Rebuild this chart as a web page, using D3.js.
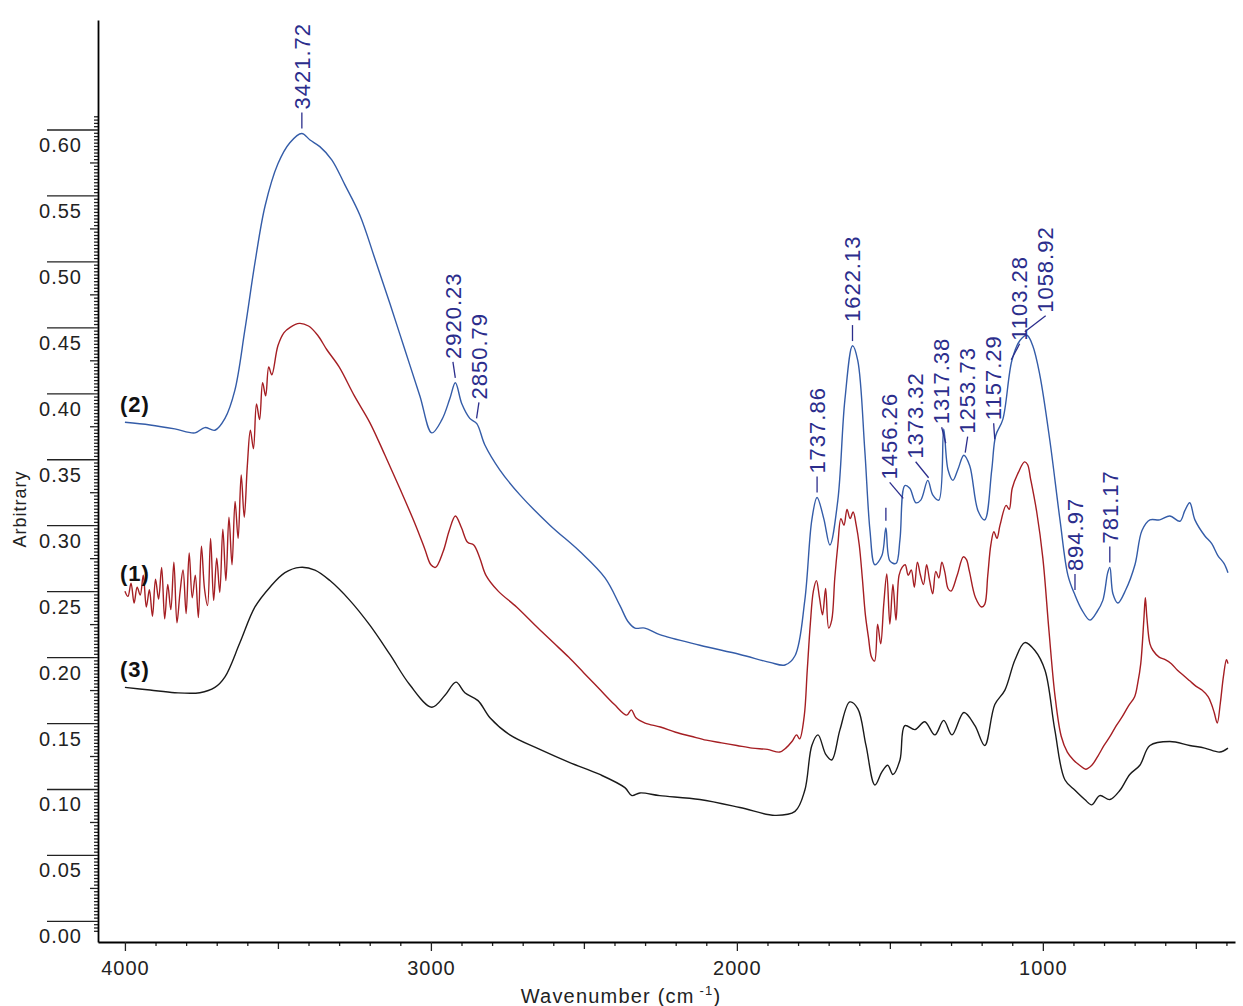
<!DOCTYPE html>
<html>
<head>
<meta charset="utf-8">
<script src="https://cdn.jsdelivr.net/npm/d3@7"></script>
<style>
  body { margin: 0; background: #fff; }
  svg { display: block; }
  text { font-family: Arial, "Liberation Sans", sans-serif; }
</style>
</head>
<body>
<div id="chart"></div>
<script>
// spectrum (2) - blue, [wavenumber, absorbance]
const spectrum2 = [
  [4000,.378],[3918,.376],[3837,.373],[3771,.370],[3739,.374],[3706,.372],[3673,.381],[3641,.402],[3608,.448],[3575,.499],
  [3542,.542],[3500,.574],[3461,.590],[3422,.597],[3395,.592],[3363,.587],[3324,.577],[3281,.558],[3232,.535],[3183,.502],
  [3134,.468],[3085,.433],[3036,.398],[2997,.370],[2964,.380],[2938,.396],[2920,.408],[2899,.392],[2873,.381],[2850,.377],
  [2824,.361],[2775,.342],[2709,.323],[2611,.300],[2513,.280],[2431,.260],[2382,.239],[2356,.227],[2333,.222],[2301,.222],
  [2252,.217],[2121,.209],[1990,.202],[1892,.196],[1843,.194],[1810,.201],[1778,.243],[1755,.304],[1738,.321],[1716,.305],
  [1696,.285],[1670,.319],[1647,.395],[1622,.436],[1605,.425],[1582,.357],[1565,.296],[1549,.270],[1526,.277],[1513,.298],
  [1500,.273],[1480,.271],[1467,.289],[1451,.330],[1435,.328],[1415,.317],[1399,.319],[1376,.334],[1360,.323],[1340,.319],
  [1324,.373],[1310,.342],[1294,.334],[1278,.342],[1258,.353],[1239,.345],[1212,.311],[1190,.304],[1167,.342],[1154,.368],
  [1131,.380],[1101,.425],[1075,.440],[1052,.444],[1033,.436],[1010,.414],[977,.364],[944,.304],[918,.262],[895,.247],
  [873,.236],[846,.228],[824,.234],[804,.243],[788,.264],[781,.268],[771,.248],[755,.241],[729,.251],[699,.270],
  [676,.296],[650,.304],[618,.304],[585,.307],[552,.303],[536,.311],[520,.317],[503,.304],[471,.292],[448,.286],
  [428,.277],[408,.271],[395,.264]
];

// spectrum (1) - red
const spectrum1 = [
  [4000,.250],[3990,.246],[3980,.256],[3970,.241],[3960,.253],[3950,.247],[3940,.262],[3930,.238],[3920,.251],[3910,.231],
  [3900,.259],[3890,.244],[3880,.268],[3870,.229],[3860,.255],[3850,.236],[3840,.272],[3830,.226],[3820,.249],[3810,.266],
  [3800,.233],[3790,.279],[3780,.245],[3770,.262],[3760,.230],[3750,.284],[3740,.252],[3730,.239],[3720,.290],[3710,.243],
  [3700,.275],[3690,.249],[3680,.297],[3670,.258],[3660,.306],[3650,.270],[3640,.318],[3630,.290],[3620,.338],[3610,.306],
  [3600,.345],[3590,.372],[3580,.358],[3570,.392],[3560,.380],[3550,.408],[3540,.398],[3530,.420],[3520,.414],[3500,.436],
  [3480,.446],[3460,.450],[3430,.453],[3400,.451],[3370,.444],[3340,.433],[3300,.420],[3250,.398],[3200,.378],[3150,.353],
  [3100,.327],[3050,.300],[3020,.282],[3000,.270],[2985,.268],[2960,.280],[2940,.296],[2920,.307],[2900,.298],[2880,.287],
  [2860,.285],[2840,.275],[2820,.262],[2780,.250],[2720,.238],[2650,.222],[2600,.211],[2550,.200],[2500,.188],[2450,.176],
  [2400,.164],[2360,.156],[2345,.160],[2330,.154],[2300,.150],[2250,.147],[2200,.143],[2150,.140],[2100,.137],[2050,.135],
  [2000,.133],[1950,.131],[1900,.130],[1860,.128],[1840,.131],[1820,.136],[1805,.141],[1795,.138],[1780,.155],[1770,.190],
  [1760,.225],[1750,.250],[1740,.258],[1730,.245],[1720,.232],[1710,.252],[1700,.222],[1690,.228],[1680,.260],[1670,.285],
  [1660,.305],[1650,.300],[1640,.312],[1630,.305],[1620,.310],[1610,.300],[1600,.285],[1590,.260],[1580,.232],[1570,.215],
  [1560,.200],[1550,.197],[1540,.225],[1530,.210],[1520,.240],[1510,.263],[1500,.225],[1490,.255],[1480,.228],[1470,.262],
  [1460,.268],[1450,.270],[1440,.262],[1430,.266],[1420,.253],[1410,.272],[1400,.262],[1390,.255],[1380,.270],[1370,.258],
  [1360,.248],[1350,.265],[1340,.260],[1330,.272],[1320,.264],[1310,.252],[1300,.250],[1280,.262],[1260,.276],[1250,.274],
  [1240,.265],[1220,.245],[1200,.238],[1190,.240],[1180,.262],[1170,.285],[1160,.295],[1150,.290],[1140,.300],[1120,.315],
  [1110,.312],[1100,.328],[1080,.340],[1060,.348],[1050,.346],[1040,.335],[1020,.310],[1000,.275],[980,.220],[960,.170],
  [940,.140],[920,.128],[900,.122],[880,.118],[860,.115],[840,.118],[820,.125],[800,.133],[780,.140],[760,.148],
  [740,.155],[720,.163],[700,.170],[690,.180],[680,.195],[670,.228],[665,.245],[660,.230],[650,.210],[640,.205],
  [620,.200],[600,.198],[580,.195],[560,.190],[540,.186],[520,.182],[500,.178],[480,.175],[460,.170],[450,.165],
  [440,.158],[430,.150],[420,.165],[410,.185],[400,.198],[395,.195]
];

// spectrum (3) - black
const spectrum3 = [
  [4000,.177],[3918,.175],[3837,.173],[3755,.173],[3706,.177],[3673,.185],[3624,.211],[3575,.238],[3526,.253],[3477,.264],
  [3428,.268],[3379,.266],[3330,.258],[3265,.243],[3199,.224],[3134,.202],[3069,.179],[2997,.162],[2954,.171],[2918,.181],
  [2889,.173],[2846,.167],[2807,.154],[2742,.141],[2644,.130],[2546,.120],[2448,.111],[2366,.101],[2343,.095],[2317,.097],
  [2252,.095],[2121,.092],[1990,.086],[1876,.080],[1810,.083],[1778,.099],[1755,.133],[1735,.141],[1709,.126],[1690,.122],
  [1663,.145],[1631,.166],[1605,.161],[1578,.133],[1549,.103],[1526,.113],[1507,.118],[1490,.111],[1467,.122],[1451,.148],
  [1418,.145],[1386,.151],[1353,.141],[1324,.152],[1297,.141],[1258,.158],[1222,.148],[1190,.133],[1157,.164],[1124,.175],
  [1091,.198],[1059,.211],[1026,.205],[993,.190],[961,.145],[928,.107],[895,.099],[863,.092],[840,.088],[814,.095],
  [781,.092],[748,.099],[716,.111],[683,.118],[650,.133],[585,.136],[520,.133],[471,.131],[422,.128],[395,.131]
];

const seriesNames = ["(2)", "(1)", "(3)"];
const seriesColors = ["#345ca8", "#a51e23", "#1a1a1a"];

// peak annotations on spectrum (2)
const peakWn = [3421.72, 2920.23, 2850.79, 1737.86, 1622.13, 1513, 1456.26, 1373.32, 1317.38, 1253.73, 1157.29, 1103.28, 1058.92, 894.97, 781.17];
const peakText = ["3421.72", "2920.23", "2850.79", "1737.86", "1622.13", "", "1456.26", "1373.32", "1317.38", "1253.73", "1157.29", "1103.28", "1058.92", "894.97", "781.17"];

const xMajor = [4000, 3000, 2000, 1000];
const yMajor = [0, 0.05, 0.10, 0.15, 0.20, 0.25, 0.30, 0.35, 0.40, 0.45, 0.50, 0.55, 0.60];

const width = 1243, height = 1006;
const labelColor = "#2b2d8c";

const svg = d3.select("#chart").append("svg")
    .attr("width", width)
    .attr("height", height);

const x = d3.scaleLinear().domain([4088, 372]).range([98, 1235]);
const y = d3.scaleLinear().domain([-0.016, 0.683]).range([942, 20]);

// --- x axis
const xMinor = d3.range(4000, 399, -100).filter(v => v % 500 !== 0);
const xMid = d3.range(4000, 399, -500).filter(v => v % 1000 !== 0);

svg.append("g").attr("transform", "translate(0,942)")
    .call(d3.axisBottom(x).tickValues(xMinor).tickSize(4).tickFormat(""))
    .call(g => g.select(".domain").remove());
svg.append("g").attr("transform", "translate(0,942)")
    .call(d3.axisBottom(x).tickValues(xMid).tickSize(7).tickFormat(""))
    .call(g => g.select(".domain").remove());
const gx = svg.append("g").attr("transform", "translate(0,942)")
    .call(d3.axisBottom(x).tickValues(xMajor).tickSize(9).tickSizeOuter(0).tickPadding(10).tickFormat(d3.format("d")));
gx.selectAll("text").attr("font-size", 20).attr("letter-spacing", 1).attr("fill", "#222");
gx.select(".domain").attr("stroke-width", 1.8);

// --- y axis
const yIdx = d3.range(-3, 245);
const yMinor = yIdx.filter(i => i % 10 !== 0).map(i => i * 0.0025);
const yMid = yIdx.filter(i => i % 10 === 0 && i % 20 !== 0).map(i => i * 0.0025);

svg.append("g").attr("transform", "translate(98,0)")
    .call(d3.axisLeft(y).tickValues(yMinor).tickSize(4).tickFormat(""))
    .call(g => g.select(".domain").remove());
svg.append("g").attr("transform", "translate(98,0)")
    .call(d3.axisLeft(y).tickValues(yMid).tickSize(8).tickFormat(""))
    .call(g => g.select(".domain").remove());
const gy = svg.append("g").attr("transform", "translate(98,0)")
    .call(d3.axisLeft(y).tickValues(yMajor).tickSize(51).tickSizeOuter(0).tickFormat(d3.format(".2f")));
gy.selectAll("text")
    .attr("font-size", 20).attr("letter-spacing", 1).attr("fill", "#222")
    .attr("x", -16).attr("dy", 0).attr("y", 22);
gy.select(".domain").attr("stroke-width", 1.8);
svg.selectAll(".tick line").attr("stroke", "#222").attr("stroke-width", 1.3);

// axis titles
const xt = svg.append("text")
    .attr("x", 621).attr("y", 1003)
    .attr("text-anchor", "middle")
    .attr("font-size", 20).attr("letter-spacing", 1.2).attr("fill", "#222");
xt.append("tspan").text("Wavenumber (cm");
xt.append("tspan").attr("font-size", 13).attr("dy", -8).text(" -1");
xt.append("tspan").attr("dy", 8).text(")");

svg.append("text")
    .attr("transform", "translate(20,509) rotate(-90)")
    .attr("text-anchor", "middle").attr("dy", "0.35em")
    .attr("font-size", 18).attr("letter-spacing", 1).attr("fill", "#222")
    .text("Arbitrary");

// --- spectra
const line = d3.line()
    .x(d => x(d[0]))
    .y(d => y(d[1]))
    .curve(d3.curveCatmullRom.alpha(0.5));
const allSpectra = [spectrum2, spectrum1, spectrum3];

svg.append("g").selectAll("path")
  .data(allSpectra)
  .join("path")
    .attr("d", line)
    .attr("fill", "none")
    .attr("stroke", (d, i) => seriesColors[i])
    .attr("stroke-width", 1.4)
    .attr("stroke-linejoin", "round");

svg.append("g").selectAll("text")
  .data(allSpectra)
  .join("text")
    .attr("x", 120)
    .attr("y", d => y(d[0][1]) - 10)
    .attr("font-size", 22).attr("font-weight", "bold").attr("letter-spacing", 1)
    .attr("fill", "#111")
    .text((d, i) => seriesNames[i]);

// --- peak labels
function valueAt(spec, wn) {
  for (let i = 0; i < spec.length - 1; i++) {
    const [w0, v0] = spec[i], [w1, v1] = spec[i + 1];
    if (wn <= w0 && wn >= w1) return v0 + (v1 - v0) * (wn - w0) / (w1 - w0);
  }
  return spec[spec.length - 1][1];
}

const labels = peakWn.map((w, i) => {
  const px = x(w);
  return {text: peakText[i], px: px, lx: px, py: y(valueAt(spectrum2, w))};
});

// spread crowded labels apart
const spread = labels.filter(d => d.text).sort((a, b) => a.px - b.px);
for (let k = 0; k < 300; k++) {
  for (let i = 1; i < spread.length; i++) {
    const gap = spread[i].lx - spread[i - 1].lx;
    if (gap < 26) {
      const s = (26 - gap) / 2;
      spread[i].lx += s;
      spread[i - 1].lx -= s;
    }
  }
}

const pk = svg.append("g");
pk.selectAll("path")
  .data(labels)
  .join("path")
    .attr("d", d => d.text
        ? `M${d.px},${d.py - 5}L${d.lx},${d.py - 21}`
        : `M${d.px},${d.py - 7}L${d.px},${d.py - 20}`)
    .attr("fill", "none")
    .attr("stroke", labelColor)
    .attr("stroke-width", 1.3);

pk.selectAll("text")
  .data(labels.filter(d => d.text))
  .join("text")
    .attr("transform", d => `translate(${d.lx},${d.py - 24}) rotate(-90)`)
    .attr("dy", "0.35em")
    .attr("font-size", 22).attr("letter-spacing", 1)
    .attr("fill", labelColor)
    .text(d => d.text);
</script>
</body>
</html>
